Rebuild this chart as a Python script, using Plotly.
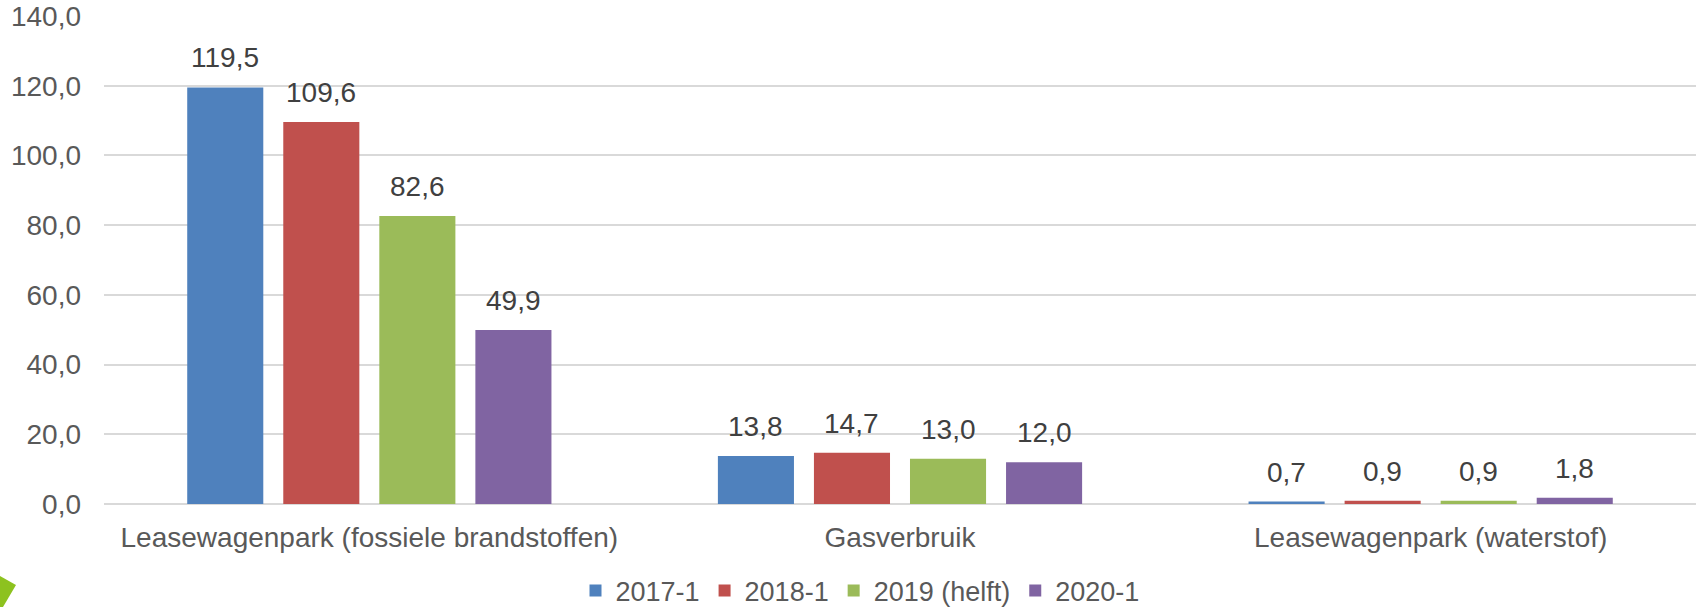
import plotly.graph_objects as go

categories = ["Leasewagenpark (fossiele brandstoffen)", "Gasverbruik", "Leasewagenpark (waterstof)"]
series_names = ["2017-1", "2018-1", "2019 (helft)", "2020-1"]
values_2017 = [119.5, 13.8, 0.7]
values_2018 = [109.6, 14.7, 0.9]
values_2019 = [82.6, 13.0, 0.9]
values_2020 = [49.9, 12.0, 1.8]
y_ticks = [0, 20, 40, 60, 80, 100, 120, 140]

series_values = [values_2017, values_2018, values_2019, values_2020]
colors = ["#4F81BD", "#C0504D", "#9BBB59", "#8064A2"]

W, H = 1696, 607
ML, MR, MT, MB = 104, 0, 16, 103
FONT = "Arial, Liberation Sans, sans-serif"
FS = 28

def fmt(v):
    return f"{v:.1f}".replace(".", ",")

fig = go.Figure()
for name, vals, col in zip(series_names, series_values, colors):
    fig.add_trace(go.Bar(
        x=categories, y=vals, name=name,
        marker=dict(color=col, line=dict(width=0)),
        hoverinfo="x+y+name",
    ))

# data labels as annotations offset to each bar of the group
plot_w = W - ML - MR
cat_w = plot_w / len(categories)
bargap = 0.276
slot = cat_w * (1 - bargap) / len(series_names)
annotations = []
for i, vals in enumerate(series_values):
    xshift = (i - (len(series_names) - 1) / 2) * slot
    for c, v in zip(categories, vals):
        annotations.append(dict(
            x=c, y=v, xref="x", yref="y", text=fmt(v), showarrow=False,
            xshift=xshift, yanchor="bottom", yshift=12,
            font=dict(family=FONT, size=FS, color="#404040"),
        ))

# decorative green corner shape (pixel -> paper conversion)
plot_h = H - MT - MB
def px(xp):
    return (xp - ML) / plot_w
def py(yp):
    return (H - MB - yp) / plot_h
corner = [(0, 576), (16, 585), (3, 607), (0, 607)]
path = "M " + " L ".join(f"{px(a):.5f},{py(b):.5f}" for a, b in corner) + " Z"

fig.update_layout(
    width=W, height=H,
    margin=dict(l=ML, r=MR, t=MT, b=MB, pad=0, autoexpand=False),
    paper_bgcolor="white", plot_bgcolor="white",
    barmode="group", bargap=bargap, bargroupgap=0.208,
    font=dict(family=FONT, size=FS, color="#595959"),
    showlegend=True,
    legend=dict(orientation="h", x=px(860), xanchor="center", y=py(591), yanchor="middle",
                font=dict(family=FONT, size=27, color="#595959"),
                itemwidth=30, tracegroupgap=0, bgcolor="rgba(0,0,0,0)"),
    annotations=annotations,
    shapes=[dict(type="path", path=path, xref="paper", yref="paper",
                 fillcolor="#8DC21F", line=dict(width=0), layer="above")],
)
fig.update_xaxes(showgrid=False, showline=False, ticks="", ticklabelstandoff=14,
                 automargin=False,
                 tickfont=dict(family=FONT, size=FS, color="#595959"))
fig.update_yaxes(range=[0, 140], tickvals=y_ticks, ticktext=[fmt(t) for t in y_ticks],
                 showgrid=True, gridcolor="#D9D9D9", gridwidth=1.5,
                 zeroline=True, zerolinecolor="#D9D9D9", zerolinewidth=1.5,
                 showline=False, ticks="", ticklabelstandoff=22, automargin=False,
                 tickfont=dict(family=FONT, size=FS, color="#595959"))

fig.write_html("out.html", config={"displayModeBar": False},
               post_script="document.body.style.margin='0';document.body.style.overflow='hidden';")
